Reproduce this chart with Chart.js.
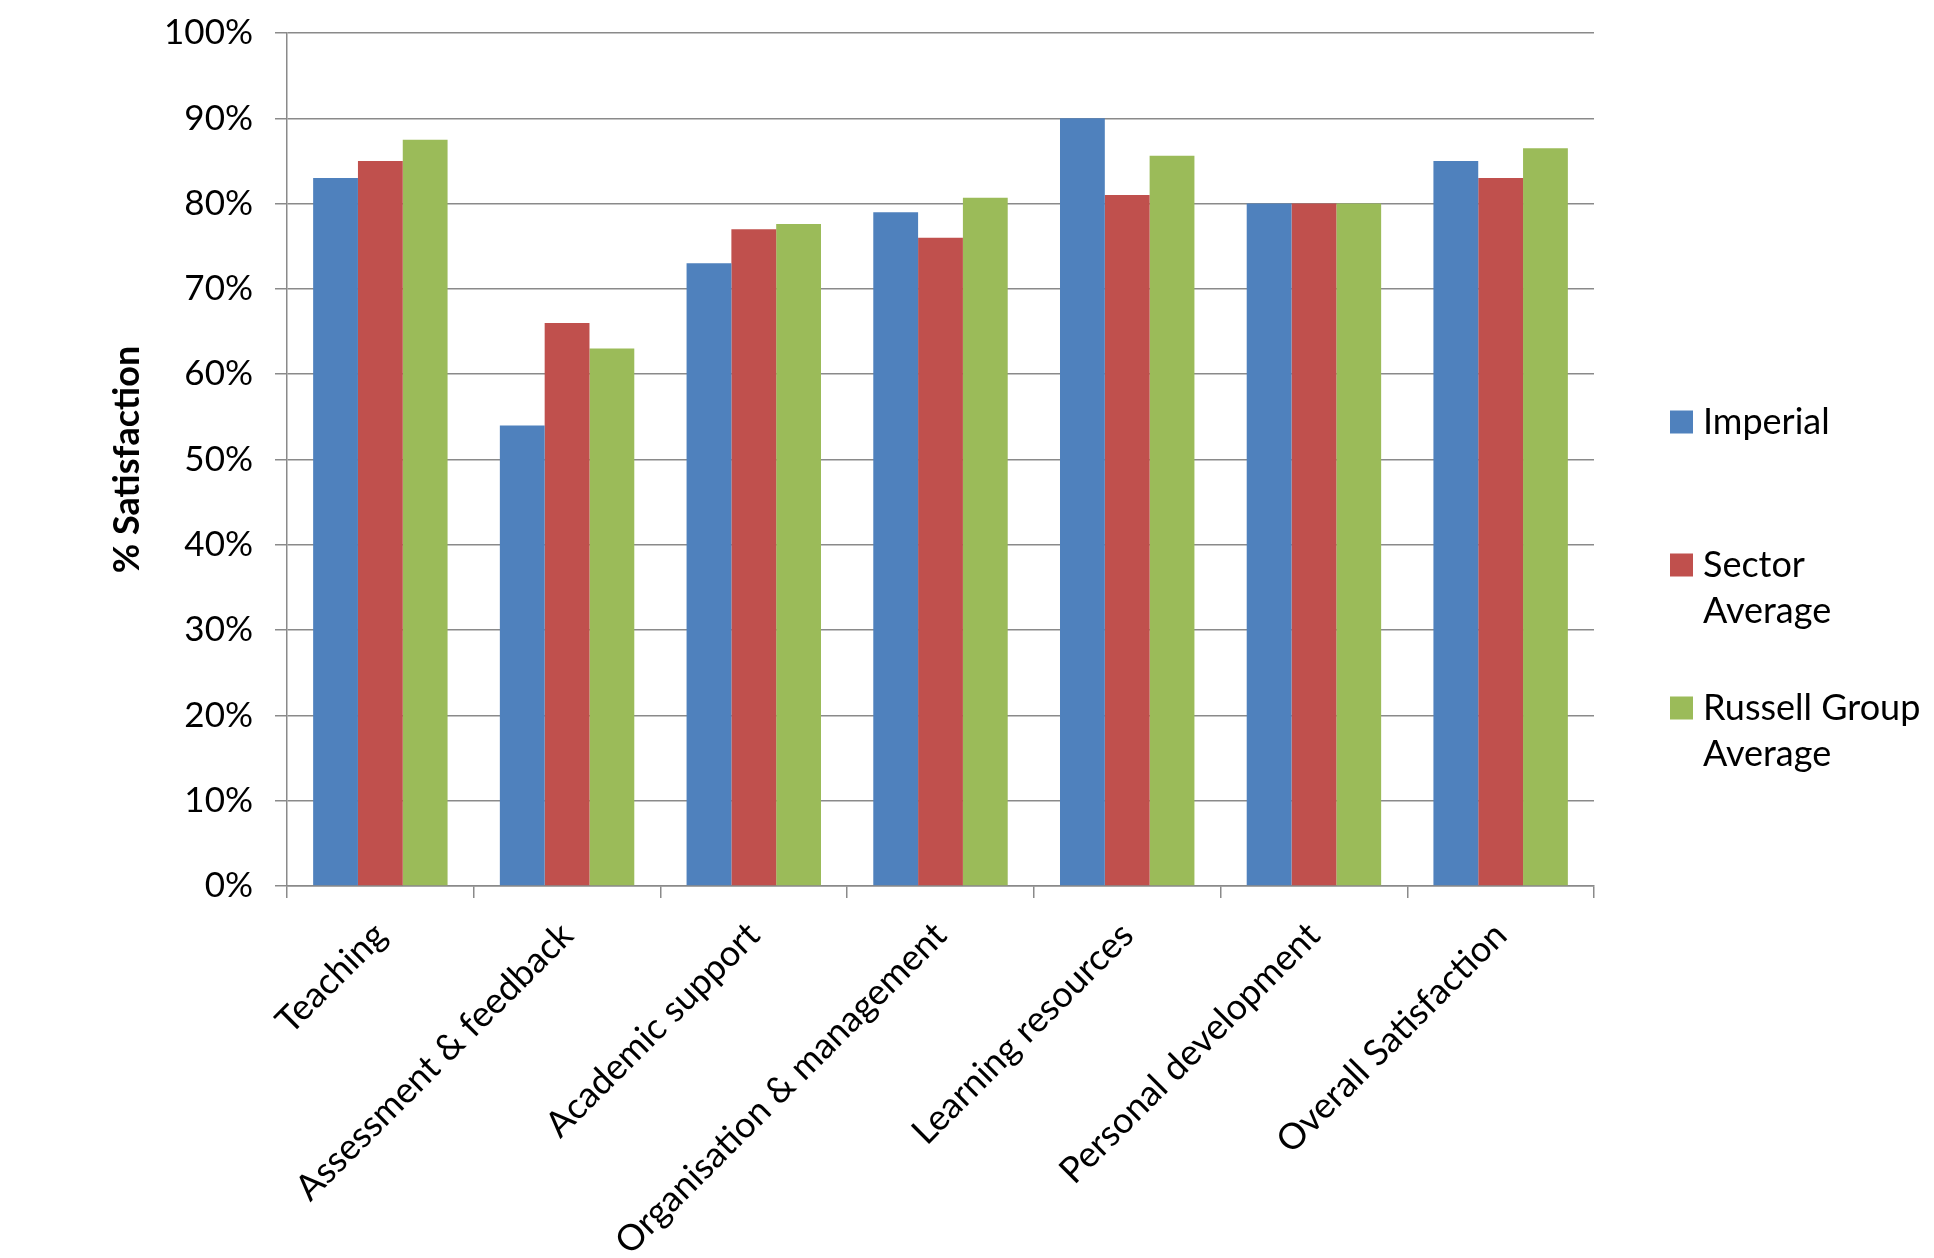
<!DOCTYPE html>
<html lang="en">
<head>
    <meta charset="UTF-8">
    <title>% Satisfaction by area</title>
    <script src="https://cdn.jsdelivr.net/npm/chart.js"></script>
    <style>
        body {
            margin: 0;
            background: #fff;
        }
        canvas {
            display: block;
        }
    </style>
</head>
<body>
    <canvas id="chart" width="1934" height="1258"></canvas>

    <script>
        // categories along the x axis
        const categories = [
            "Teaching",
            "Assessment & feedback",
            "Academic support",
            "Organisation & management",
            "Learning resources",
            "Personal development",
            "Overall Satisfaction"
        ];

        // series values (% satisfaction)
        const imperial = [83, 54, 73, 79, 90, 80, 85];
        const sectorAverage = [85, 66, 77, 76, 81, 80, 83];
        const russellGroupAverage = [87.5, 63, 77.6, 80.7, 85.6, 80, 86.5];

        // legend names, split the way the legend wraps them
        const seriesNames = [
            ["Imperial"],
            ["Sector", "Average"],
            ["Russell Group", "Average"]
        ];

        const yTicks = [0, 10, 20, 30, 40, 50, 60, 70, 80, 90, 100];

        const colors = ["#4F81BD", "#C0504D", "#9BBB59"];
        const gridColor = "#8a8a8a";
        const font = "Lato";

        // legend drawn to the right of the plot, with wrapped labels
        const sideLegend = {
            id: "sideLegend",
            afterDraw(chart) {
                const ctx = chart.ctx;
                const x = 1670;
                const box = 23;
                const lineH = 46;
                const firstY = [422, 565, 708];
                ctx.save();
                ctx.font = `36px ${font}`;
                ctx.textBaseline = "middle";
                ctx.textAlign = "left";
                chart.data.datasets.forEach((ds, i) => {
                    const y = firstY[i];
                    ctx.fillStyle = ds.backgroundColor;
                    ctx.fillRect(x, y - box / 2, box, box);
                    ctx.fillStyle = "#000";
                    seriesNames[i].forEach((line, j) => {
                        ctx.fillText(line, x + 33, y + j * lineH);
                    });
                });
                ctx.restore();
            }
        };

        const datasets = [imperial, sectorAverage, russellGroupAverage].map((values, i) => ({
            label: seriesNames[i].join(" "),
            data: values,
            backgroundColor: colors[i],
            borderWidth: 0,
            categoryPercentage: 0.72,
            barPercentage: 1.0
        }));

        new Chart(document.getElementById("chart"), {
            type: "bar",
            data: { labels: categories, datasets: datasets },
            options: {
                responsive: false,
                animation: false,
                layout: {
                    padding: { left: 0, top: 33, right: 340, bottom: 0 }
                },
                plugins: {
                    legend: { display: false },
                    tooltip: { enabled: false }
                },
                scales: {
                    x: {
                        grid: {
                            display: true,
                            drawOnChartArea: false,
                            drawTicks: true,
                            tickLength: 12,
                            offset: true,
                            color: gridColor,
                            lineWidth: 1.5
                        },
                        border: { color: gridColor, width: 1.5 },
                        ticks: {
                            color: "#000",
                            font: { family: font, size: 36 },
                            minRotation: 45,
                            maxRotation: 45,
                            autoSkip: false,
                            padding: 16
                        },
                        afterFit(scale) {
                            scale.height = 372;
                        }
                    },
                    y: {
                        min: 0,
                        max: 100,
                        afterBuildTicks(scale) {
                            scale.ticks = yTicks.map(v => ({ value: v }));
                        },
                        grid: {
                            color: gridColor,
                            lineWidth: 1.5,
                            tickLength: 12
                        },
                        border: { color: gridColor, width: 1.5 },
                        ticks: {
                            color: "#000",
                            font: { family: font, size: 35 },
                            padding: 22,
                            callback: v => v + "%"
                        },
                        title: {
                            display: true,
                            text: "% Satisfaction",
                            color: "#000",
                            font: { family: font, size: 36, weight: "bold" },
                            padding: { top: 106, bottom: 0 }
                        },
                        afterFit(scale) {
                            scale.width = 287;
                            // let the layout padding alone set the plot top
                            scale.paddingTop = 0;
                        }
                    }
                }
            },
            plugins: [sideLegend]
        });
    </script>
</body>
</html>
